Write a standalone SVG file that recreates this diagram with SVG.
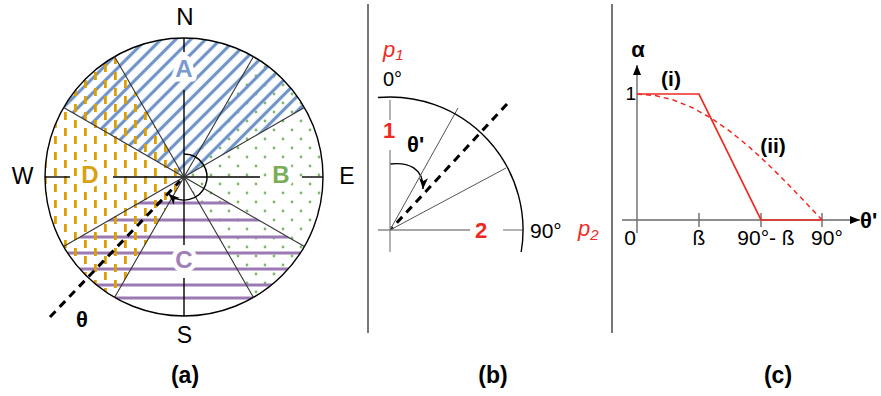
<svg xmlns="http://www.w3.org/2000/svg" width="881" height="396" viewBox="0 0 881 396">
<style>
text { font-family: "Liberation Sans", Arial, sans-serif; fill:#000; }
.k { stroke:#000; stroke-width:1.4; fill:none; }
.thin { stroke:#333; stroke-width:1.1; fill:none; }
.g { stroke:#8a8a8a; stroke-width:1.3; fill:none; }
.ax { stroke:#6a6a6a; stroke-width:1.4; fill:none; }
.red { fill:#ee2a24; }
.b { font-weight:bold; }
.halo { stroke:#fff; stroke-width:9; stroke-linejoin:round; paint-order:stroke; }
.dash { stroke:#000; stroke-width:3; stroke-dasharray:8 6; fill:none; }
.pl { stroke:#9b7ab3; stroke-width:3; }
.sep { stroke:#555; stroke-width:1.6; }
</style>
<defs>
<pattern id="hatchA" patternUnits="userSpaceOnUse" width="10.5" height="10.5" patternTransform="rotate(-45)"><line x1="0" y1="5.25" x2="10.5" y2="5.25" stroke="#7094c8" stroke-width="3.2"/></pattern>
<pattern id="dotsB" patternUnits="userSpaceOnUse" width="18" height="18"><circle cx="4" cy="4" r="1.4" fill="#7fb86a"/><circle cx="13" cy="13" r="1.4" fill="#7fb86a"/></pattern>
<pattern id="dashD" patternUnits="userSpaceOnUse" width="20" height="16"><rect x="4" y="0" width="2.8" height="8" fill="#dba000"/><rect x="14" y="8" width="2.8" height="8" fill="#dba000"/></pattern>
<clipPath id="clipC"><path d="M184,177 L304.4,246.5 A139,139 0 0,1 63.6,246.5 Z"/></clipPath>
<marker id="arrA" markerUnits="userSpaceOnUse" markerWidth="12" markerHeight="10" refX="11" refY="4.5" orient="auto"><polygon points="0,0 11,4.5 0,9 3,4.5" fill="#000"/></marker>
<marker id="arrT" markerUnits="userSpaceOnUse" markerWidth="12" markerHeight="10" refX="10" refY="4" orient="auto"><polygon points="0,0 10,4 0,8" fill="#000"/></marker>
</defs>

<!-- panel separators -->
<line class="sep" x1="368" y1="4" x2="368" y2="333"/>
<line class="sep" x1="612" y1="4" x2="612" y2="333"/>

<!-- Panel (a) -->
<g id="sectorB"><path d="M184,177 L253.5,56.6 A139,139 0 0,1 253.5,297.4 Z" fill="url(#dotsB)"/></g>
<g id="sectorA"><path d="M184,177 L63.6,107.5 A139,139 0 0,1 304.4,107.5 Z" fill="url(#hatchA)"/></g>
<g id="sectorC" clip-path="url(#clipC)">
<line class="pl" x1="40" y1="203" x2="330" y2="203"/>
<line class="pl" x1="40" y1="220" x2="330" y2="220"/>
<line class="pl" x1="40" y1="237" x2="330" y2="237"/>
<line class="pl" x1="40" y1="253" x2="330" y2="253"/>
<line class="pl" x1="40" y1="269" x2="330" y2="269"/>
<line class="pl" x1="40" y1="285" x2="330" y2="285"/>
<line class="pl" x1="40" y1="298" x2="330" y2="298"/>
</g>
<g id="sectorD"><path d="M184,177 L114.5,297.4 A139,139 0 0,1 114.5,56.6 Z" fill="url(#dashD)"/></g>

<g id="compass">
<circle class="k" cx="184" cy="177" r="139"/>
<line class="k" x1="184" y1="38" x2="184" y2="52"/>
<line class="k" x1="184" y1="90" x2="184" y2="245"/>
<line class="k" x1="184" y1="278" x2="184" y2="316"/>
<line class="k" x1="45" y1="177" x2="70" y2="177"/>
<line class="k" x1="113" y1="177" x2="260" y2="177"/>
<line class="k" x1="302" y1="177" x2="323" y2="177"/>
<line class="thin" x1="184" y1="177" x2="253.5" y2="56.6"/>
<line class="thin" x1="184" y1="177" x2="304.4" y2="107.5"/>
<line class="thin" x1="184" y1="177" x2="304.4" y2="246.5"/>
<line class="thin" x1="184" y1="177" x2="253.5" y2="297.4"/>
<line class="thin" x1="184" y1="177" x2="114.5" y2="297.4"/>
<line class="thin" x1="184" y1="177" x2="63.6" y2="246.5"/>
<line class="thin" x1="184" y1="177" x2="63.6" y2="107.5"/>
<line class="thin" x1="184" y1="177" x2="114.5" y2="56.6"/>
</g>

<g id="connectors">
<line class="dash" x1="50" y1="317" x2="180" y2="181"/>
<path class="k" d="M184,154 A23,23 0 1,1 168.6,194.1" marker-end="url(#arrA)"/>
<line class="dash" x1="507" y1="104" x2="391" y2="229"/>
<path class="k" d="M390,164 C408,162 424,168 423,189" marker-end="url(#arrA)"/>
</g>

<g id="labelsA">
<text x="184" y="77" font-size="24" class="b halo" text-anchor="middle" style="fill:#7a9bd0">A</text>
<text x="281" y="183" font-size="24" class="b halo" text-anchor="middle" style="fill:#7aad5a">B</text>
<text x="184" y="268" font-size="24" class="b halo" text-anchor="middle" style="fill:#a080b8">C</text>
<text x="90" y="183" font-size="24" class="b halo" text-anchor="middle" style="fill:#d9a010">D</text>
<text x="185" y="25" font-size="24" text-anchor="middle">N</text>
<text x="184.5" y="343" font-size="23" text-anchor="middle">S</text>
<text x="22.5" y="184" font-size="23" text-anchor="middle">W</text>
<text x="347" y="184" font-size="23" text-anchor="middle">E</text>
<text x="82" y="327" font-size="22" class="b" text-anchor="middle">θ</text>
<text x="185" y="383" font-size="23" class="b" text-anchor="middle">(a)</text>
</g>

<!-- Panel (b) -->
<g id="quadrant">
<line class="g" x1="390" y1="100" x2="390" y2="120"/>
<line class="g" x1="390" y1="150" x2="390" y2="252"/>
<line class="g" x1="378" y1="230" x2="470" y2="230"/>
<line class="g" x1="503" y1="230" x2="523" y2="230"/>
<line stroke="#555" stroke-width="1" x1="390" y1="230" x2="458" y2="108"/>
<line stroke="#555" stroke-width="1" x1="390" y1="230" x2="506" y2="168"/>
<path class="k" d="M378,97.5 A133,133 0 0,1 521.2,252"/>
</g>
<g id="labelsB">
<text x="383" y="57" font-size="22" font-style="italic" class="red">p<tspan font-size="15" dy="3">1</tspan></text>
<text x="383" y="86" font-size="20">0°</text>
<text x="389" y="138" font-size="22" class="b red" text-anchor="middle">1</text>
<text x="407" y="152" font-size="22" class="b">θ'</text>
<text x="481" y="238" font-size="22" class="b red" text-anchor="middle">2</text>
<text x="530" y="238" font-size="21">90°</text>
<text x="578" y="236" font-size="22" font-style="italic" class="red">p<tspan font-size="15" dy="4">2</tspan></text>
<text x="493" y="383" font-size="23" class="b" text-anchor="middle">(b)</text>
</g>

<!-- Panel (c) -->
<g id="plot">
<line class="ax" x1="637" y1="233" x2="637" y2="65" marker-end="url(#arrT)"/>
<line class="ax" x1="622" y1="220" x2="860" y2="220" marker-end="url(#arrT)"/>
<line class="ax" x1="699" y1="213" x2="699" y2="227"/>
<line class="ax" x1="761" y1="213" x2="761" y2="227"/>
<line class="ax" x1="822" y1="213" x2="822" y2="227"/>
<polyline points="637,94 699,94 761,220 822,220" fill="none" stroke="#ee2a24" stroke-width="1.7"/>
<polyline points="637,94 655.5,95.6 674,100.2 692.5,107.7 711,118.1 729.5,130.9 748,145.9 766.5,162.8 785,181.1 803.5,200.3 822,220" fill="none" stroke="#ee2a24" stroke-width="1.5" stroke-dasharray="5 4"/>
</g>
<g id="labelsC">
<text x="638" y="57" font-size="22" class="b" text-anchor="middle">α</text>
<text x="636" y="100" font-size="19" text-anchor="end">1</text>
<text x="671" y="86" font-size="21" class="b" text-anchor="middle">(i)</text>
<text x="773" y="153" font-size="21" class="b" text-anchor="middle">(ii)</text>
<text x="860" y="228" font-size="22" class="b">θ'</text>
<text x="630" y="245" font-size="21" text-anchor="middle">0</text>
<text x="699" y="245" font-size="21" text-anchor="middle">ß</text>
<text x="766" y="245" font-size="21" text-anchor="middle">90°- ß</text>
<text x="827" y="245" font-size="21" text-anchor="middle">90°</text>
<text x="778" y="383" font-size="23" class="b" text-anchor="middle">(c)</text>
</g>
</svg>
